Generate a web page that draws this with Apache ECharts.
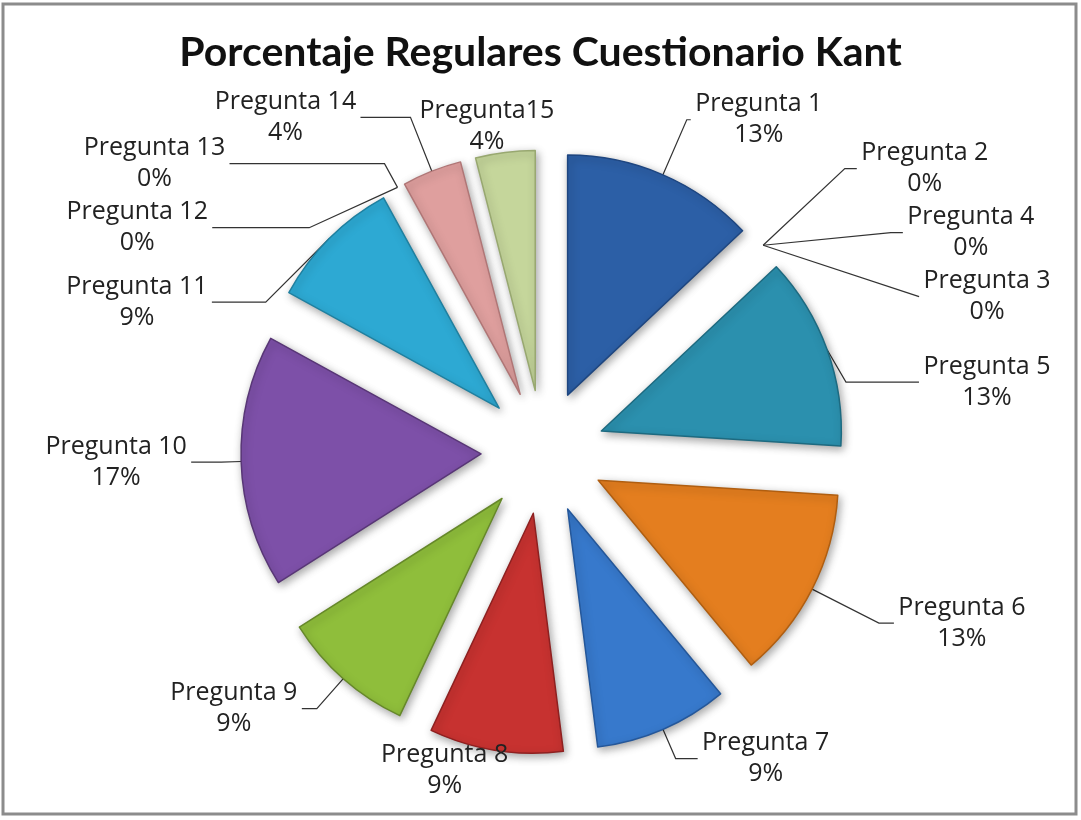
<!DOCTYPE html>
<html>
<head>
<meta charset="utf-8">
<script src="https://cdn.jsdelivr.net/npm/echarts@6/dist/echarts.min.js"></script>
<style>
html,body{margin:0;padding:0;background:#fff;}
#chart{position:absolute;left:0;top:0;width:1081px;height:820px;}
</style>
</head>
<body>
<div id="chart"></div>
<script>
const titleText = 'Porcentaje Regulares Cuestionario Kant';
const categories = ['Pregunta 1','Pregunta 2','Pregunta 4','Pregunta 3','Pregunta 5','Pregunta 6','Pregunta 7','Pregunta 8','Pregunta 9','Pregunta 10','Pregunta 11','Pregunta 13','Pregunta 12','Pregunta 14','Pregunta15'];
const percents = [13,0,0,0,13,13,9,9,9,17,9,0,0,4,4];
const colors = ['#2C5FA6','#3B6FB8','#3B6FB8','#3B6FB8','#2B90AE','#E47E1F','#3779CC','#C73230','#8FBE3B','#7D50A8','#2DA9D3','#2DA9D3','#2DA9D3','#DF9F9E','#C5D69B'];
const borders = ['#1E4680','#2A5090','#2A5090','#2A5090','#1D6A80','#B05E10','#24579A','#8E2020','#66882A','#583676','#1F80A0','#1F80A0','#1F80A0','#B07676','#98A870'];
// leader line lengths per slice (first segment, second segment)
const leadLen  = [60,112,112,112,10,75,32,20,40,20,16,27,27,58,26];
const leadLen2 = [4,12,12,0,73,15,22,45,15,30,55,155,97,50,12];
// labels stacked automatically by ECharts (true) or placed at their leader end (false)
const autoStack = [false,true,true,true,true,false,false,false,false,false,true,true,true,false,false];
// labels drawn centred on their anchor without a visible leader line
const centred = [false,false,false,false,false,false,false,true,false,false,false,false,false,false,true];

const labelFont = 'Open Sans';
const labelSize = 25;
const lineH = 31;
const mctx = document.createElement('canvas').getContext('2d');
mctx.font = labelSize + 'px "' + labelFont + '"';
function tw(s){ return Math.ceil(mctx.measureText(s).width); }

function buildData(visible, stacked) {
  return categories.map((c, i) => {
    const w = Math.max(tw(c), tw(percents[i] + '%')) + 2;
    const zero = percents[i] === 0;
    const show = autoStack[i] === stacked;
    return {
      name: c,
      value: percents[i],
      selected: true,
      itemStyle: (!visible || zero)
        ? { color: 'rgba(0,0,0,0)', borderWidth: 0, shadowBlur: 0, shadowOffsetX: 0, shadowOffsetY: 0, shadowColor: 'rgba(0,0,0,0)' }
        : { color: colors[i], borderColor: borders[i] },
      label: { show: show, rich: { n: { width: w, align: 'center' }, p: { width: w, align: 'center' } } },
      labelLine: {
        show: show,
        length: leadLen[i],
        length2: leadLen2[i],
        lineStyle: { opacity: centred[i] ? 0 : 1 }
      }
    };
  });
}

const common = {
  type: 'pie',
  center: [543, 452],
  radius: [0, 240],
  startAngle: 90,
  clockwise: true,
  selectedMode: 'multiple',
  selectedOffset: 62,
  emphasis: { disabled: true },
  labelLayout: function (params) {
    const o = { hideOverlap: false };
    if (centred[params.dataIndex]) o.align = 'center';
    return o;
  },
  label: {
    position: 'outside',
    distanceToLabelLine: 3,
    formatter: p => '{n|' + p.name + '}\n{p|' + p.value + '%}',
    fontFamily: labelFont,
    fontSize: labelSize,
    lineHeight: lineH,
    color: '#222',
    rich: {
      n: { fontFamily: labelFont, fontSize: labelSize, lineHeight: lineH, color: '#222' },
      p: { fontFamily: labelFont, fontSize: labelSize, lineHeight: lineH, color: '#222' }
    }
  },
  labelLine: { lineStyle: { color: '#333', width: 1.2 } }
};

const chart = echarts.init(document.getElementById('chart'), null, { renderer: 'canvas' });
chart.setOption({
  backgroundColor: '#ffffff',
  animation: false,
  title: {
    text: titleText,
    left: 'center',
    top: 27,
    textStyle: { fontFamily: 'Lato', fontWeight: 'bold', fontSize: 41, color: '#111' }
  },
  graphic: [{
    type: 'rect',
    shape: { x: 3, y: 4, width: 1073, height: 810 },
    style: { fill: 'none', stroke: '#8c8c8c', lineWidth: 3 },
    silent: true
  }],
  series: [
    Object.assign({}, common, {
      name: 'slices',
      avoidLabelOverlap: true,
      itemStyle: {
        borderWidth: 1.5,
        shadowBlur: 8,
        shadowColor: 'rgba(0,0,0,0.35)',
        shadowOffsetX: 2,
        shadowOffsetY: 3
      },
      data: buildData(true, true)
    }),
    Object.assign({}, common, {
      name: 'labels',
      silent: true,
      avoidLabelOverlap: false,
      itemStyle: { borderWidth: 0 },
      data: buildData(false, false)
    })
  ]
});
</script>
</body>
</html>
